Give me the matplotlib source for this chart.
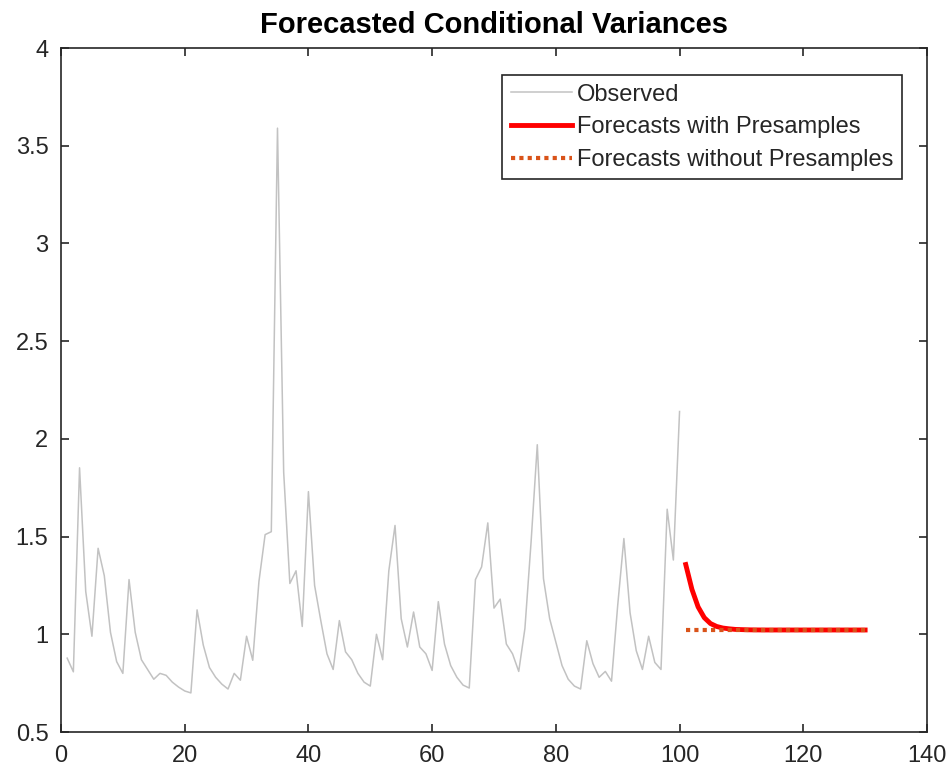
import matplotlib
matplotlib.use('Agg')
import matplotlib.pyplot as plt
from matplotlib.ticker import FormatStrFormatter

plt.rcParams['font.family'] = ['Liberation Sans', 'DejaVu Sans']

# observed conditional variances, t = 1..100
observed = [
    0.878, 0.808, 1.852, 1.219, 0.99, 1.44, 1.30, 1.01, 0.86, 0.80,
    1.28, 1.01, 0.87, 0.82, 0.77, 0.80, 0.79, 0.755, 0.73, 0.71,
    0.70, 1.125, 0.945, 0.83, 0.78, 0.745, 0.72, 0.80, 0.765, 0.99,
    0.867, 1.27, 1.51, 1.525, 3.59, 1.83, 1.26, 1.325, 1.04, 1.73,
    1.25, 1.07, 0.90, 0.82, 1.07, 0.91, 0.87, 0.80, 0.755, 0.735,
    1.0, 0.87, 1.325, 1.557, 1.08, 0.935, 1.114, 0.935, 0.90, 0.815,
    1.167, 0.95, 0.84, 0.78, 0.74, 0.725, 1.28, 1.345, 1.57, 1.134,
    1.18, 0.95, 0.90, 0.81, 1.03, 1.474, 1.97, 1.285, 1.08, 0.96,
    0.84, 0.77, 0.735, 0.72, 0.967, 0.85, 0.78, 0.81, 0.76, 1.148,
    1.49, 1.11, 0.916, 0.82, 0.99, 0.856, 0.82, 1.64, 1.38, 2.14,
]

# forecasts, t = 101..130
fc_with = [
    1.357, 1.23, 1.14, 1.085, 1.055, 1.040, 1.032, 1.028, 1.025, 1.024,
    1.023, 1.0225, 1.0222, 1.022, 1.022, 1.022, 1.022, 1.022, 1.022, 1.022,
    1.022, 1.022, 1.022, 1.022, 1.022, 1.022, 1.022, 1.022, 1.022, 1.022,
]
fc_without = [1.022] * 30

t_obs = list(range(1, len(observed) + 1))
t_fc = list(range(len(observed) + 1, len(observed) + 1 + len(fc_with)))

fig = plt.figure(figsize=(9.53, 7.76), dpi=100)
ax = fig.add_axes([0.064, 0.0567, 0.9087, 0.8814])

ax.plot(t_obs, observed, color=(0.76, 0.76, 0.76), lw=1.1, label='Observed')
ax.plot(t_fc, fc_with, color='red', lw=3.5, label='Forecasts with Presamples')
ax.plot(t_fc, fc_without, color='#D95319', lw=3, linestyle=(0, (1, 1)),
        label='Forecasts without Presamples')

ax.set_xlim(0, 140)
ax.set_ylim(0.5, 4)
ax.set_xticks(range(0, 141, 20))
ax.set_yticks([0.5, 1, 1.5, 2, 2.5, 3, 3.5, 4])
ax.yaxis.set_major_formatter(FormatStrFormatter('%g'))

dark = (0.15, 0.15, 0.15)
for s in ax.spines.values():
    s.set_color(dark)
    s.set_linewidth(1.2)
ax.tick_params(direction='in', length=6, width=1.2, color=dark,
               labelcolor=dark, labelsize=17, top=True, right=True, pad=9)

ax.set_title('Forecasted Conditional Variances', fontsize=21,
             fontweight='bold', pad=11)

leg = ax.legend(loc='upper right', bbox_to_anchor=(0.971, 0.9605),
                borderaxespad=0, fontsize=17, fancybox=False, framealpha=1,
                edgecolor=dark, handlelength=2.6, handletextpad=0.2,
                labelspacing=0.45, borderpad=0.36)
leg.get_frame().set_linewidth(1.2)
for txt in leg.get_texts():
    txt.set_color(dark)

fig.savefig('out.png', dpi=100)
